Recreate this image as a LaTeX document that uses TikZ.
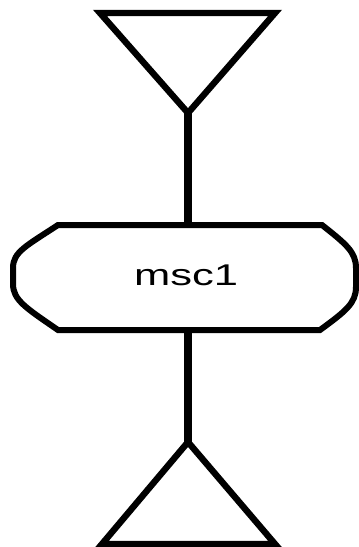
\documentclass[tikz,border=0pt]{standalone}
\usepackage{fontspec}
\setmainfont{Liberation Sans}
\usepackage{tikz}
\usetikzlibrary{calc}

\begin{document}
\begin{tikzpicture}[x=0.5pt, y=-0.5pt]
		%%%%% START %%%%%
		\useasboundingbox (0, 0) rectangle (359, 547);
		
		% start symbol
		\draw[line width=3.2pt, line join=miter] (100, 13) -- (275, 13) -- (188, 113) -- cycle;
		\coordinate (topapex) at (188, 113);
		
		% msc reference box
		\draw[line width=3pt] (58, 225) -- (322, 225) .. controls (346, 244) and (356, 252) .. (356, 268) -- (356, 287) .. controls (356, 303) and (346, 311) .. (320, 330) -- (58, 330) .. controls (26, 308) and (13, 300) .. (13, 284) -- (13, 268) .. controls (13, 252) and (26, 246) .. cycle;
		\coordinate (boxtop) at (188, 225);
		\coordinate (boxbot) at (188, 330);
		\node[font=\fontsize{15}{15}\selectfont, xscale=1.45] (msc) at (186, 275) {msc1};
		
		% end symbol
		\draw[line width=3.2pt, line join=miter] (102, 544) -- (275, 544) -- (188, 442) -- cycle;
		\coordinate (botapex) at (188, 442);
		
		\draw[line width=3.6pt] (topapex) -- (boxtop);
		\draw[line width=3.6pt] (boxbot) -- (botapex);
		
		%%%%% END %%%%%
	\end{tikzpicture}
\end{document}
